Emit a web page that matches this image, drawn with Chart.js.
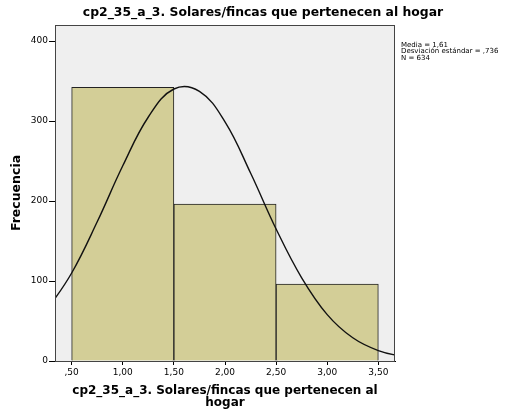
<!DOCTYPE html>
<html>
<head>
<meta charset="utf-8">
<script src="https://cdn.jsdelivr.net/npm/chart.js@4/dist/chart.umd.min.js"></script>
<style>
  html, body { margin: 0; padding: 0; background: #fff; }
  #wrap { width: 512px; height: 412px; }
</style>
</head>
<body>
<div id="wrap"><canvas id="chart" width="512" height="412"></canvas></div>
<script>
// histogram bins (bin centres) and counts
const binCenters = [1, 2, 3];
const binCounts = [342, 196, 96];

// normal curve
const curveX = [0.25, 0.5, 0.75, 1.0, 1.25, 1.5, 1.75, 2.0, 2.25, 2.5, 2.75, 3.0, 3.25, 3.5, 3.75];
const curveY = [62, 110, 174, 244, 305, 340, 337, 299, 235, 165, 104, 58, 29, 13, 5];

const xTicks = [0.5, 1.0, 1.5, 2.0, 2.5, 3.0, 3.5];
const yTicks = [0, 100, 200, 300, 400];

const chartTitle = "cp2_35_a_3. Solares/fincas que pertenecen al hogar";
const xTitle = ["cp2_35_a_3. Solares/fincas que pertenecen al", "hogar"];
const yTitle = "Frecuencia";
const statsLines = ["Media = 1,61", "Desviación estándar = ,736", "N = 634"];

const FONT = "'DejaVu Sans', sans-serif";

function fmtComma(v) {
    let s = v.toFixed(2).replace(".", ",");
    if (s.startsWith("0")) s = s.slice(1);
    return s;
}

const frame = {
    id: "frame",
    beforeDraw(chart) {
        const a = chart.chartArea;
        const ctx = chart.ctx;
        ctx.save();
        ctx.fillStyle = "#efefef";
        ctx.fillRect(a.left, a.top, a.right - a.left, a.bottom - a.top);
        ctx.restore();
    },
    afterDatasetsDraw(chart) {
        const a = chart.chartArea;
        const ctx = chart.ctx;
        ctx.save();
        ctx.strokeStyle = "#444";
        ctx.lineWidth = 1;
        ctx.strokeRect(a.left + 0.5, a.top + 0.5, a.right - a.left - 1, a.bottom - a.top);
        ctx.restore();
    },
    afterDraw(chart) {
        const ctx = chart.ctx;
        const a = chart.chartArea;
        ctx.save();
        ctx.fillStyle = "#000";
        ctx.font = "bold 12.4px " + FONT;
        ctx.textAlign = "center";
        ctx.textBaseline = "middle";
        ctx.fillText(chartTitle, 263, 13);
        ctx.font = "7px " + FONT;
        ctx.textAlign = "left";
        statsLines.forEach((t, i) => ctx.fillText(t, a.right + 6, 45 + i * 6.5));
        ctx.restore();
    }
};

const ctx = document.getElementById("chart").getContext("2d");

new Chart(ctx, {
    type: "bar",
    data: {
        datasets: [{
            type: "line",
            data: curveX.map((x, i) => ({ x: x, y: curveY[i] })),
            borderColor: "#111",
            borderWidth: 1.4,
            pointRadius: 0,
            tension: 0.4,
            fill: false,
            order: 0
        }, {
            type: "bar",
            data: binCenters.map((x, i) => ({ x: x, y: binCounts[i] })),
            backgroundColor: "#d3ce97",
            borderColor: "#222",
            borderWidth: 1,
            barThickness: (c) => {
                const sx = c.chart.scales.x;
                return sx.getPixelForValue(1) - sx.getPixelForValue(0);
            },
            order: 1
        }]
    },
    plugins: [frame],
    options: {
        responsive: false,
        animation: false,
        layout: { padding: { left: 0, right: 117, top: 25, bottom: 0 } },
        plugins: {
            legend: { display: false },
            tooltip: { enabled: false }
        },
        scales: {
            x: {
                type: "linear",
                min: 0.337,
                max: 3.663,
                offset: false,
                grid: { display: true, drawOnChartArea: false, drawTicks: true, tickLength: 4, color: "#000", offset: false },
                border: { display: true, color: "#000" },
                afterBuildTicks: (s) => { s.ticks = xTicks.map(v => ({ value: v })); },
                afterFit: (s) => { s.height = 51; },
                ticks: {
                    color: "#000",
                    padding: 2,
                    maxRotation: 0,
                    font: { family: FONT, size: 9 },
                    callback: (v) => fmtComma(v)
                },
                title: {
                    display: true,
                    text: xTitle,
                    color: "#000",
                    font: { family: FONT, size: 12, weight: "bold", lineHeight: 1 },
                    padding: { top: 0, bottom: 3 }
                }
            },
            y: {
                min: 0,
                max: 420,
                grid: { display: true, drawOnChartArea: false, drawTicks: true, tickLength: 6, color: "#000" },
                border: { display: true, color: "#000" },
                afterBuildTicks: (s) => { s.ticks = yTicks.map(v => ({ value: v })); },
                afterFit: (s) => { s.width = 55; },
                ticks: {
                    color: "#000",
                    padding: 1,
                    font: { family: FONT, size: 9 }
                },
                title: {
                    display: true,
                    text: yTitle,
                    color: "#000",
                    font: { family: FONT, size: 12.5, weight: "bold", lineHeight: 1.2 },
                    padding: { top: 9, bottom: 0 }
                }
            }
        }
    }
});
</script>
</body>
</html>
